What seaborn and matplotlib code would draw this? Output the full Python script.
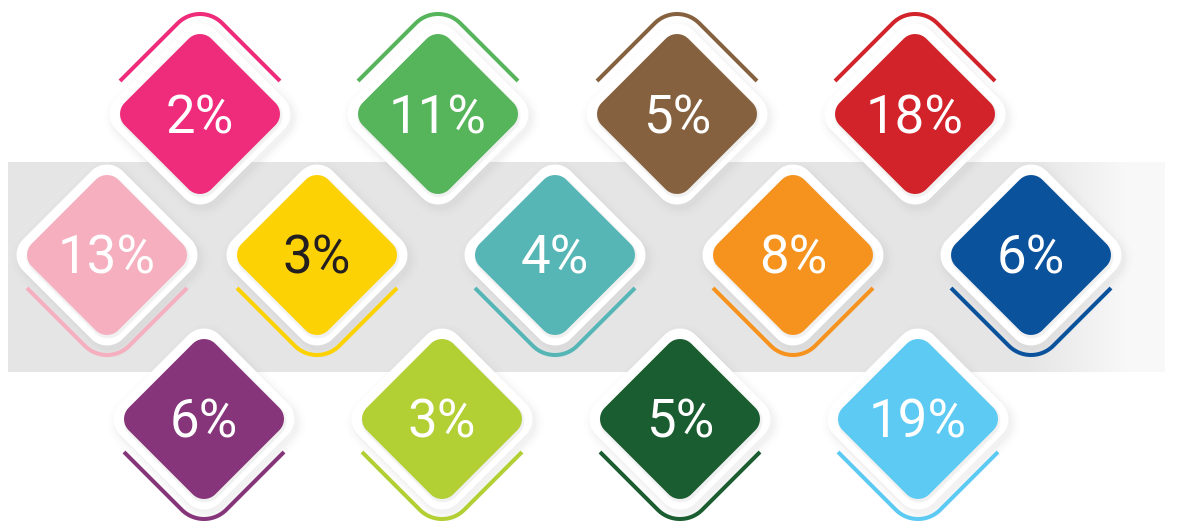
import numpy as np
import matplotlib
matplotlib.use("Agg")
import matplotlib.pyplot as plt
from matplotlib.patches import Polygon
import seaborn as sns

# data: one tile per value, read row by row (top, middle, bottom)
values = [2, 11, 5, 18, 13, 3, 4, 8, 6, 6, 3, 5, 19]
rows = ["top"] * 4 + ["middle"] * 5 + ["bottom"] * 4
colors = ["#EE2C7B", "#56B45B", "#86613F", "#D2232A",
          "#F5AFBF", "#FDD204", "#55B6B5", "#F6931E", "#0B529C",
          "#86357A", "#B2CF34", "#1A5D30", "#5DCAF4"]
text_colors = ["white"] * 5 + ["#231F20"] + ["white"] * 7

# layout (pixels)
row_y = {"top": 114, "middle": 255, "bottom": 419}
row_x = {"top": [200, 438, 677, 915],
         "middle": [107, 317, 555, 793, 1031],
         "bottom": [204, 442, 680, 918]}
H = 86.6      # half diagonal of the sharp diamond
R = 16        # corner radius


def rounded_diamond(cx, cy, h, r, n=12):
    pts = []
    for ang in [0, 90, 180, 270]:
        d = np.array([np.cos(np.radians(ang)), np.sin(np.radians(ang))])
        c = np.array([cx, cy]) + d * (h - r * np.sqrt(2))
        for phi in np.linspace(ang - 45, ang + 45, n):
            pts.append(c + r * np.array([np.cos(np.radians(phi)), np.sin(np.radians(phi))]))
    return np.array(pts)


def chevron(cx, cy, side, w=80, e=33, apex=100, n=20):
    # side = -1 above the tile, +1 below
    sharp = e + w
    r = (sharp - apex) / (np.sqrt(2) - 1)
    cyc = cy + side * (sharp - r * np.sqrt(2))
    pts = [(cx - w, cy + side * e)]
    for phi in np.linspace(135, 45, n):
        pts.append((cx + r * np.cos(np.radians(phi)), cyc + side * r * np.sin(np.radians(phi))))
    pts.append((cx + w, cy + side * e))
    return np.array(pts)


sns.set_theme(style="white")
plt.rcParams["font.family"] = ["Roboto", "Liberation Sans", "DejaVu Sans"]
palette = sns.color_palette(colors)

fig = plt.figure(figsize=(11.77, 5.21), dpi=100)
ax = fig.add_axes([0, 0, 1, 1])
ax.set_xlim(0, 1177)
ax.set_ylim(521, 0)
ax.axis("off")

# grey band behind the middle row, fading out on the right
band = np.ones((1, 400, 4))
band[..., :3] = 0.9
band[0, :, 3] = np.clip((1165 - np.linspace(8, 1165, 400)) / 140, 0.25, 1.0)
ax.imshow(band, extent=(8, 1165, 372, 162), aspect="auto", zorder=0, interpolation="bilinear")

k = 0
for row in ["top", "middle", "bottom"]:
    cy = row_y[row]
    side = -1 if row == "top" else 1
    for cx in row_x[row]:
        z = 2 + k * 0.1
        # soft shadow + white halo
        for grow, a in [(24, 0.015), (20, 0.02), (17, 0.03), (14, 0.035)]:
            ax.add_patch(Polygon(rounded_diamond(cx + 3, cy + 4, H + grow, R + grow / 2),
                                 closed=True, facecolor="#909090", alpha=a, lw=0, zorder=z))
        ax.add_patch(Polygon(rounded_diamond(cx, cy, H + 13, R + 6), closed=True,
                             facecolor="white", lw=0, zorder=z + 0.01))
        for grow, a in [(3, 0.05), (1.5, 0.06)]:
            ax.add_patch(Polygon(rounded_diamond(cx + 1, cy + 2, H + grow, R + grow), closed=True,
                                 facecolor="#808080", alpha=a, lw=0, zorder=z + 0.015))
        ax.add_patch(Polygon(rounded_diamond(cx, cy, H, R), closed=True,
                             facecolor=palette[k], lw=0, zorder=z + 0.02))
        ch = chevron(cx, cy, side)
        ax.plot(ch[:, 0], ch[:, 1], color=palette[k], lw=2.9, solid_capstyle="butt", zorder=z + 0.03)
        ax.text(cx, cy + 19, f"{values[k]}%", color=text_colors[k], fontsize=38,
                fontweight="normal", ha="center", va="baseline", zorder=z + 0.04)
        k += 1

fig.savefig("out.png", dpi=100, facecolor="white")
